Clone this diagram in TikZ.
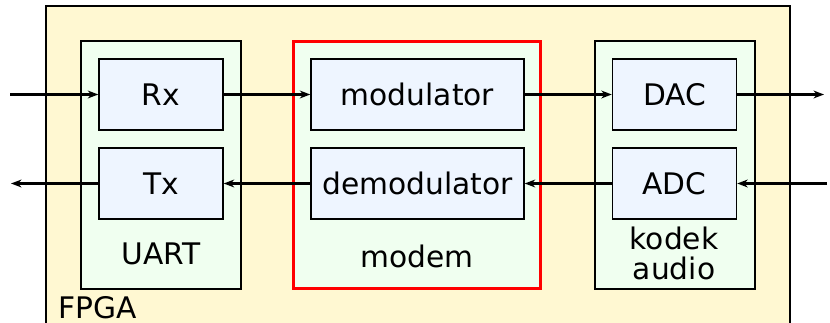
\documentclass[tikz,border=0pt]{standalone}
\usepackage{fontspec}
\setmainfont{DejaVu Sans}
\usetikzlibrary{arrows.meta}
\definecolor{fpgakuning}{HTML}{FFF8D2}
\definecolor{grupijo}{HTML}{F0FFF0}
\definecolor{blokbiru}{HTML}{EEF5FF}
\tikzset{
	fpgabox/.style={draw=black, line width=0.9pt, fill=fpgakuning},
	grupbox/.style={draw=black, line width=0.85pt, fill=grupijo, minimum width=3.2cm, minimum height=4.96cm},
	modembox/.style={draw=red, line width=1.7pt, fill=grupijo, minimum width=4.96cm, minimum height=4.96cm},
	blok/.style={draw=black, line width=0.85pt, fill=blokbiru, minimum height=1.42cm, minimum width=2.48cm},
	label/.style={inner sep=0pt},
	sinyal/.style={-{Stealth[length=6pt,width=4.5pt,inset=2pt]}, line width=1.15pt}
}
\begin{document}
\begin{tikzpicture}[x=0.02cm,y=-0.02cm,font=\fontsize{16.9}{17.5}\selectfont]
	\clip (0,0) rectangle (830,323);
	%%%%%%%%%%%%%%%%%%%%% F P G A %%%%%%%%%%%%%%%%%%%%%
	\draw [fpgabox] (46,6) rectangle (790,345);
	\node [label, anchor=west] (fpgalbl) at (58,307.5) {FPGA};
	%%%% GRUP
	\node [grupbox] (uart) at (161,165) {};
	\node [modembox] (modem) at (417,165) {};
	\node [grupbox] (kodek) at (675,165) {};
	\node [label] (uartlbl) at (161,254) {UART};
	\node [label] (modemlbl) at (417,256) {modem};
	\node [label, align=center] (kodeklbl) at (674,253.5) {kodek\\audio};
	%%%% BLOK
	\node [blok] (rx) at (161,94.5) {Rx};
	\node [blok] (tx) at (161,183.5) {Tx};
	\node [blok, minimum width=4.26cm] (mod) at (417.5,94.5) {modulator};
	\node [blok, minimum width=4.26cm] (demod) at (417.5,183.5) {demodulator};
	\node [blok] (dac) at (674.5,94.5) {DAC};
	\node [blok] (adc) at (674.5,183.5) {ADC};
	%%%% SINYAL
	\coordinate (rxin) at (10,94.5);
	\coordinate (txout) at (11,183.5);
	\coordinate (dacout) at (824,94.5);
	\coordinate (adcin) at (827,183.5);
	\draw [sinyal] (rxin) -- (rx.west);
	\draw [sinyal] (rx.east) -- (mod.west);
	\draw [sinyal] (mod.east) -- (dac.west);
	\draw [sinyal] (dac.east) -- (dacout);
	\draw [sinyal] (adcin) -- (adc.east);
	\draw [sinyal] (adc.west) -- (demod.east);
	\draw [sinyal] (demod.west) -- (tx.east);
	\draw [sinyal] (tx.west) -- (txout);
\end{tikzpicture}
\end{document}
